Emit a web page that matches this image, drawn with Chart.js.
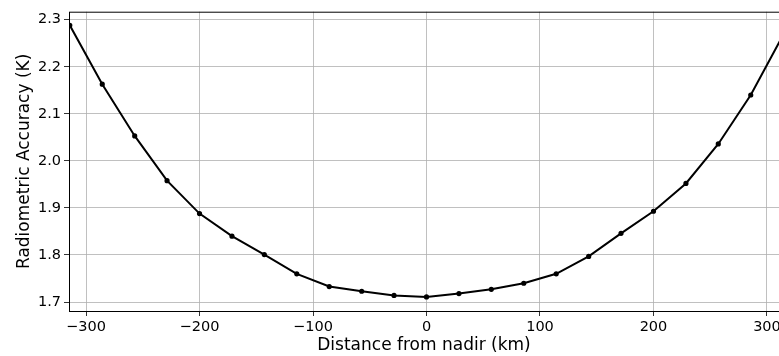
<!DOCTYPE html>
<html>
<head>
<meta charset="utf-8">
<script src="https://cdn.jsdelivr.net/npm/chart.js@4"></script>
<style>
  html, body { margin: 0; padding: 0; background: #fff; }
  #wrap { width: 779px; height: 356px; }
</style>
</head>
<body>
<div id="wrap"><canvas id="chart" width="779" height="356"></canvas></div>
<script>
// Distance from nadir (km) and radiometric accuracy (K)
const distances = [-314.3, -285.7, -257.1, -228.6, -200, -171.4, -142.9, -114.3, -85.7, -57.1, -28.6,
    0, 28.6, 57.1, 85.7, 114.3, 142.9, 171.4, 200, 228.6, 257.1, 285.7, 314.3];
const accuracy = [2.288, 2.163, 2.053, 1.958, 1.888, 1.840, 1.801, 1.760, 1.733, 1.723, 1.714,
    1.711, 1.718, 1.727, 1.740, 1.760, 1.797, 1.846, 1.893, 1.952, 2.036, 2.140, 2.268];
const xTicks = [-300, -200, -100, 0, 100, 200, 300];
const yTicks = [1.7, 1.8, 1.9, 2.0, 2.1, 2.2, 2.3];

const points = distances.map((d, i) => ({ x: d, y: accuracy[i] }));

// frame around the plot area, like matplotlib spines
const frame = {
    id: 'frame',
    afterDraw(chart) {
        const a = chart.chartArea;
        const ctx = chart.ctx;
        ctx.save();
        ctx.strokeStyle = '#000';
        ctx.lineWidth = 1;
        ctx.strokeRect(a.left + 0.5, a.top + 0.5, a.right - a.left, a.bottom - a.top);
        ctx.restore();
    }
};

const font = 'DejaVu Sans';

new Chart(document.getElementById('chart'), {
    type: 'scatter',
    data: {
        datasets: [{
            data: points,
            showLine: true,
            borderColor: '#000',
            backgroundColor: '#000',
            borderWidth: 2,
            pointRadius: 1.6,
            pointHoverRadius: 1.6,
            tension: 0
        }]
    },
    options: {
        responsive: false,
        animation: false,
        layout: { autoPadding: false, padding: { left: 0, right: 0, top: 10, bottom: 0 } },
        plugins: {
            legend: { display: false },
            tooltip: { enabled: false }
        },
        scales: {
            x: {
                type: 'linear',
                min: -315,
                max: 310.6,
                afterBuildTicks: function(scale) {
                    scale.ticks = xTicks.map(v => ({ value: v }));
                },
                afterFit: function(scale) {
                    scale.paddingRight = 0;
                    scale.paddingLeft = 0;
                    scale.height = 45;
                },
                ticks: {
                    color: '#000',
                    padding: 3,
                    maxRotation: 0,
                    font: { family: font, size: 14.5 },
                    callback: function(v) {
                        return String(v).replace('-', '\u2212');
                    }
                },
                grid: {
                    color: '#b0b0b0',
                    lineWidth: 0.8,
                    tickColor: '#000',
                    tickLength: 5,
                    drawTicks: true
                },
                border: { display: false },
                title: {
                    display: true,
                    text: 'Distance from nadir (km)',
                    color: '#000',
                    font: { family: font, size: 17 },
                    padding: { top: 1, bottom: 0 }
                }
            },
            y: {
                min: 1.681,
                max: 2.317,
                afterBuildTicks: function(scale) {
                    scale.ticks = yTicks.map(v => ({ value: v }));
                },
                afterFit: function(scale) {
                    scale.width = 69;
                },
                ticks: {
                    color: '#000',
                    padding: 3,
                    font: { family: font, size: 14.5 },
                    callback: function(v) {
                        return Number(v).toFixed(1);
                    }
                },
                grid: {
                    color: '#b0b0b0',
                    lineWidth: 0.8,
                    tickColor: '#000',
                    tickLength: 5,
                    drawTicks: true
                },
                border: { display: false },
                title: {
                    display: true,
                    text: 'Radiometric Accuracy (K)',
                    color: '#000',
                    font: { family: font, size: 17 },
                    padding: { top: 14, bottom: 0 }
                }
            }
        }
    },
    plugins: [frame]
});
</script>
</body>
</html>
